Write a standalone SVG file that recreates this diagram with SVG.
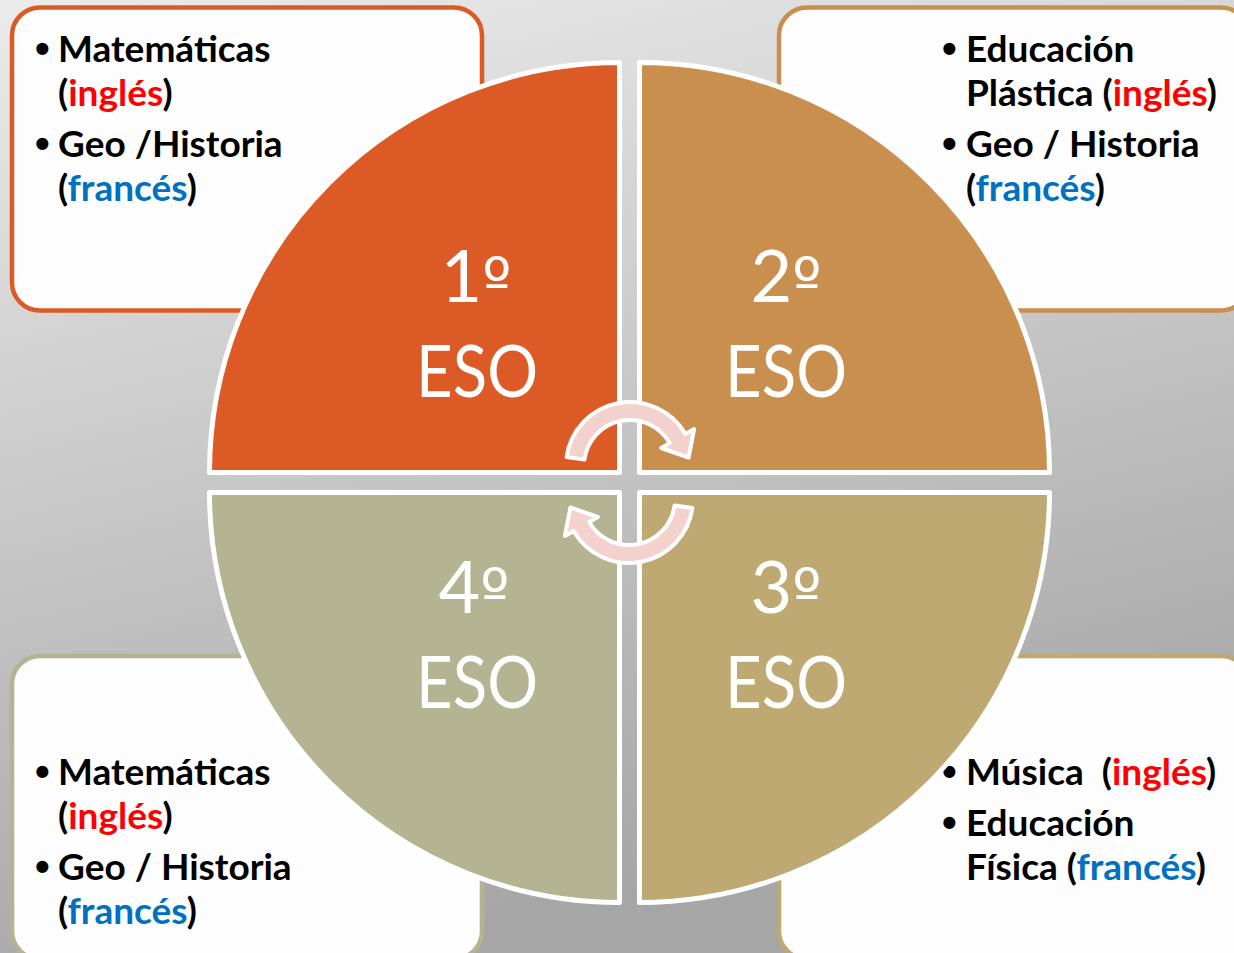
<svg xmlns="http://www.w3.org/2000/svg" width="1234" height="953" viewBox="0 0 1234 953">
  <defs>
    <linearGradient id="bg" x1="0" y1="0" x2="0.3" y2="1">
      <stop offset="0" stop-color="#ebebeb"/>
      <stop offset="1" stop-color="#a6a6a6"/>
    </linearGradient>
  </defs>
  <style>
    .box { fill: #fdfdfd; stroke-width: 4.5; }
    .quad { stroke: #ffffff; stroke-width: 5; stroke-linejoin: round; }
    .t { font-family: Lato, "Liberation Sans", sans-serif; font-weight: 700; font-size: 37px; fill: #000000; }
    .b { font-family: "Liberation Sans", sans-serif; font-weight: 700; font-size: 42px; fill: #000000; }
    .en { fill: #ff0000; }
    .fr { fill: #0070c0; }
    .eso { font-family: Lato, "Liberation Sans", sans-serif; font-size: 72px; fill: #ffffff; text-anchor: middle; }
    .ord { font-family: "DejaVu Sans", sans-serif; font-size: 62px; }
    .arrow { fill: #f3d1cd; stroke: #ffffff; stroke-width: 4; stroke-linejoin: round; }
  </style>

  <rect id="background" x="0" y="0" width="1234" height="953" fill="url(#bg)"/>

  <g id="box-1">
    <rect class="box" x="12" y="7.5" width="470" height="303" rx="28" stroke="#dc5a25"/>
    <text class="b" x="35" y="63">•</text>
    <text class="t" x="58" y="62">Matemáticas</text>
    <text class="t" x="58" y="106">(<tspan class="en">inglés</tspan>)</text>
    <text class="b" x="35" y="158">•</text>
    <text class="t" x="58" y="157">Geo /Historia</text>
    <text class="t" x="58" y="201">(<tspan class="fr">francés</tspan>)</text>
  </g>

  <g id="box-2">
    <rect class="box" x="779" y="7.5" width="470" height="303" rx="28" stroke="#c98f4e"/>
    <text class="b" x="942" y="63">•</text>
    <text class="t" x="966" y="62">Educación</text>
    <text class="t" x="966" y="106">Plástica (<tspan class="en">inglés</tspan>)</text>
    <text class="b" x="942" y="158">•</text>
    <text class="t" x="966" y="157">Geo / Historia</text>
    <text class="t" x="966" y="201">(<tspan class="fr">francés</tspan>)</text>
  </g>

  <g id="box-4">
    <rect class="box" x="12" y="656" width="470" height="303" rx="28" stroke="#b4b392"/>
    <text class="b" x="35" y="786">•</text>
    <text class="t" x="58" y="785">Matemáticas</text>
    <text class="t" x="58" y="829">(<tspan class="en">inglés</tspan>)</text>
    <text class="b" x="35" y="881">•</text>
    <text class="t" x="58" y="880">Geo / Historia</text>
    <text class="t" x="58" y="924">(<tspan class="fr">francés</tspan>)</text>
  </g>

  <g id="box-3">
    <rect class="box" x="779" y="656" width="470" height="303" rx="28" stroke="#bea972"/>
    <text class="b" x="942" y="786">•</text>
    <text class="t" x="966" y="785" xml:space="preserve">Música  (<tspan class="en">inglés</tspan>)</text>
    <text class="b" x="942" y="837">•</text>
    <text class="t" x="966" y="836">Educación</text>
    <text class="t" x="966" y="880">Física (<tspan class="fr">francés</tspan>)</text>
  </g>

  <g id="quad-1">
    <path class="quad" d="M619.5,472.5 L209.5,472.5 A410,410 0 0 1 619.5,62.5 Z" fill="#dc5a25"/>
    <text class="eso" x="476" y="302">1<tspan class="ord">º</tspan></text>
    <text class="eso" x="477" y="397" textLength="122" lengthAdjust="spacingAndGlyphs">ESO</text>
  </g>
  <g id="quad-2">
    <path class="quad" d="M639.5,472.5 L639.5,62.5 A410,410 0 0 1 1049.5,472.5 Z" fill="#c98f4e"/>
    <text class="eso" x="786" y="302">2<tspan class="ord">º</tspan></text>
    <text class="eso" x="786" y="397" textLength="122" lengthAdjust="spacingAndGlyphs">ESO</text>
  </g>
  <g id="quad-3">
    <path class="quad" d="M639.5,492.5 L1049.5,492.5 A410,410 0 0 1 639.5,902.5 Z" fill="#bea972"/>
    <text class="eso" x="786" y="613">3<tspan class="ord">º</tspan></text>
    <text class="eso" x="786" y="708" textLength="122" lengthAdjust="spacingAndGlyphs">ESO</text>
  </g>
  <g id="quad-4">
    <path class="quad" d="M619.5,492.5 L619.5,902.5 A410,410 0 0 1 209.5,492.5 Z" fill="#b4b392"/>
    <text class="eso" x="474" y="613">4<tspan class="ord">º</tspan></text>
    <text class="eso" x="477" y="708" textLength="122" lengthAdjust="spacingAndGlyphs">ESO</text>
  </g>

  <g id="connectors">
    <path class="arrow" d="M566.6,457.1 A64,64 0 0 1 685.4,434 L694.1,429 L688.6,457.5 L661.2,448 L669.8,443 A46,46 0 0 0 584.4,459.6 Z"/>
    <path class="arrow" transform="rotate(180 629.5 482.5)" d="M566.6,457.1 A64,64 0 0 1 685.4,434 L694.1,429 L688.6,457.5 L661.2,448 L669.8,443 A46,46 0 0 0 584.4,459.6 Z"/>
  </g>
</svg>
